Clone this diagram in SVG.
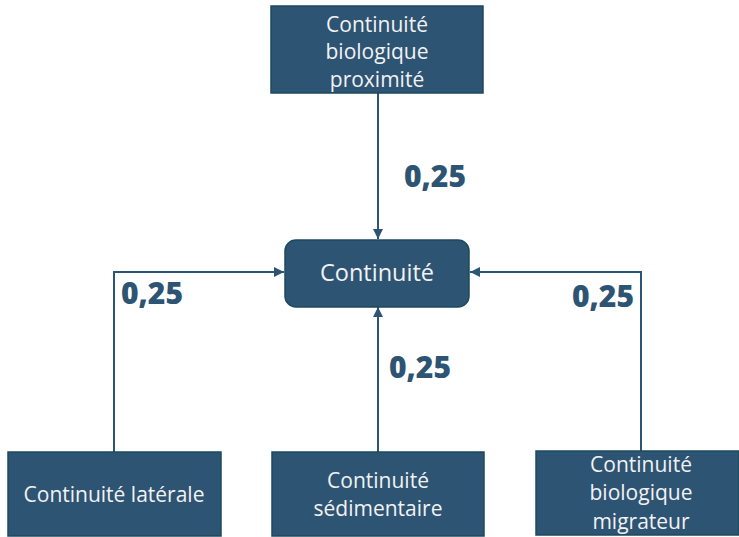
<svg xmlns="http://www.w3.org/2000/svg" width="739" height="537" viewBox="0 0 739 537">
<style>
.box{fill:#2E5473;stroke:#1C4A5E;stroke-width:1.5}
.t{font-family:"Open Sans","Liberation Sans",sans-serif;fill:#F2F2F2;text-anchor:middle;font-size:21px}
.tc{font-size:23.5px}
.lbl{font-family:"Open Sans","Liberation Sans",sans-serif;font-weight:800;font-size:30px;fill:#2E5473}
.ln{fill:none;stroke:#2E5473;stroke-width:2}
</style>
<defs>
<marker id="ah" viewBox="0 0 10 10" refX="10" refY="5" markerWidth="10" markerHeight="10" markerUnits="userSpaceOnUse" orient="auto">
<path d="M0,0 L10,5 L0,10 z" fill="#2E5473"/>
</marker>
</defs>
<rect width="739" height="537" fill="#FFFFFF"/>
<g id="connectors">
<path class="ln" d="M378,93 V239" marker-end="url(#ah)"/>
<path class="ln" d="M114,452 V272 H284" marker-end="url(#ah)"/>
<path class="ln" d="M378,452 V307" marker-end="url(#ah)"/>
<path class="ln" d="M641,451 V272 H470" marker-end="url(#ah)"/>
<text class="lbl" x="404" y="187">0,25</text>
<text class="lbl" x="121" y="304">0,25</text>
<text class="lbl" x="389" y="378">0,25</text>
<text class="lbl" x="572" y="307">0,25</text>
</g>
<g id="top">
<rect class="box" x="271" y="6" width="212" height="87"/>
<text class="t" x="377" y="31.5">Continuité</text>
<text class="t" x="377" y="59">biologique</text>
<text class="t" x="377" y="86.5">proximité</text>
</g>
<g id="center">
<rect class="box" x="285" y="240" width="184" height="67" rx="11"/>
<text class="t tc" x="377" y="281">Continuité</text>
</g>
<g id="laterale">
<rect class="box" x="8" y="452" width="213" height="84"/>
<text class="t" x="114" y="502">Continuité latérale</text>
</g>
<g id="sedimentaire">
<rect class="box" x="272" y="452" width="212" height="84"/>
<text class="t" x="378" y="487.5">Continuité</text>
<text class="t" x="378" y="515.5">sédimentaire</text>
</g>
<g id="migrateur">
<rect class="box" x="536" y="451" width="203" height="84"/>
<text class="t" x="641" y="471.5">Continuité</text>
<text class="t" x="641" y="500">biologique</text>
<text class="t" x="641" y="528.5">migrateur</text>
</g>
</svg>
